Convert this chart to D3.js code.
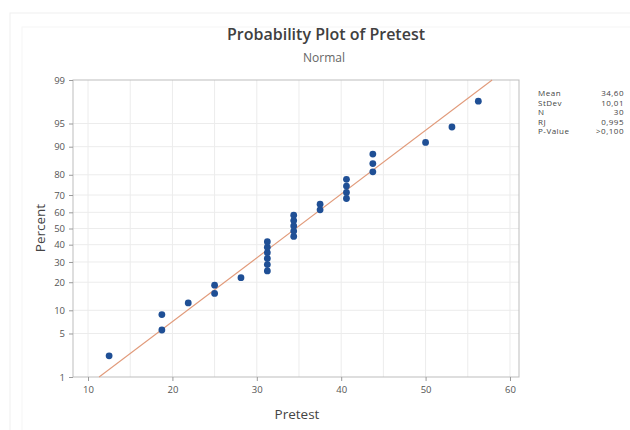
<!DOCTYPE html>
<html>
<head>
<meta charset="utf-8">
<script src="https://cdn.jsdelivr.net/npm/d3@7"></script>
<style>
  body { margin: 0; background: #fff; }
  svg { font-family: "Open Sans", "Noto Sans", sans-serif; }
</style>
</head>
<body>
<div id="vis1"></div>
<script>
const FRAME_WIDTH = 630;
const FRAME_HEIGHT = 430;
const MARGINS = {left: 73, right: 111, top: 80, bottom: 53};

// pretest scores (sorted) and their plotted percent positions
const PRETEST = [12.5, 18.75, 18.75, 21.875, 25, 25, 28.125,
                 31.25, 31.25, 31.25, 31.25, 31.25, 31.25,
                 34.375, 34.375, 34.375, 34.375, 34.375,
                 37.5, 37.5, 40.625, 40.625, 40.625, 40.625,
                 43.75, 43.75, 43.75, 50, 53.125, 56.25];
const PERCENT = [2.30, 5.59, 8.88, 12.17, 15.46, 18.75, 22.04, 25.33, 28.62, 31.91,
                 35.20, 38.49, 41.78, 45.07, 48.36, 51.64, 54.93, 58.22, 61.51, 64.80,
                 68.09, 71.38, 74.67, 77.96, 81.25, 84.54, 87.83, 91.12, 94.41, 97.70];

const X_TICKS = [10, 20, 30, 40, 50, 60];
const X_GRID = [10, 15, 20, 25, 30, 35, 40, 45, 50, 55, 60];
const Y_TICKS = [1, 5, 10, 20, 30, 40, 50, 60, 70, 80, 90, 95, 99];

const STAT_LABELS = ["Mean", "StDev", "N", "RJ", "P-Value"];
const STAT_VALUES = ["34,60", "10,01", "30", "0,995", ">0,100"];
const MEAN = 34.60;
const STDEV = 10.01;

// inverse normal cdf (Acklam)
function probit(p) {
  const a = [-39.69683028665376, 220.9460984245205, -275.9285104469687, 138.3577518672690, -30.66479806614716, 2.506628277459239];
  const b = [-54.47609879822406, 161.5858368580409, -155.6989798598866, 66.80131188771972, -13.28068155288572];
  const c = [-0.007784894002430293, -0.3223964580411365, -2.400758277161838, -2.549732539343734, 4.374664141464968, 2.938163982698783];
  const d = [0.007784695709041462, 0.3224671290700398, 2.445134137142996, 3.754408661907416];
  const pl = 0.02425;
  let q, r;
  if (p < pl) {
    q = Math.sqrt(-2 * Math.log(p));
    return (((((c[0]*q+c[1])*q+c[2])*q+c[3])*q+c[4])*q+c[5]) / ((((d[0]*q+d[1])*q+d[2])*q+d[3])*q+1);
  } else if (p <= 1 - pl) {
    q = p - 0.5; r = q * q;
    return (((((a[0]*r+a[1])*r+a[2])*r+a[3])*r+a[4])*r+a[5])*q / (((((b[0]*r+b[1])*r+b[2])*r+b[3])*r+b[4])*r+1);
  }
  q = Math.sqrt(-2 * Math.log(1 - p));
  return -(((((c[0]*q+c[1])*q+c[2])*q+c[3])*q+c[4])*q+c[5]) / ((((d[0]*q+d[1])*q+d[2])*q+d[3])*q+1);
}

const VIS_WIDTH = FRAME_WIDTH - MARGINS.left - MARGINS.right;
const VIS_HEIGHT = FRAME_HEIGHT - MARGINS.top - MARGINS.bottom;

const FRAME1 = d3.select("#vis1")
                  .append("svg")
                    .attr("width", FRAME_WIDTH)
                    .attr("height", FRAME_HEIGHT);

// faint outer graph frame
FRAME1.append("rect")
      .attr("x", 10).attr("y", 13)
      .attr("width", 640).attr("height", 440)
      .attr("fill", "none").attr("stroke", "#efefef");
FRAME1.append("rect")
      .attr("x", 22).attr("y", 27)
      .attr("width", 640).attr("height", 440)
      .attr("fill", "none").attr("stroke", "#f6f6f6");

const X_SCALE = d3.scaleLinear()
                  .domain([8.22, 61.07])
                  .range([MARGINS.left, MARGINS.left + VIS_WIDTH]);

const Y_SCALE = d3.scaleLinear()
                  .domain([probit(0.01), probit(0.99)])
                  .range([MARGINS.top + VIS_HEIGHT, MARGINS.top]);

const yPct = (p) => Y_SCALE(probit(p / 100));

// gridlines
FRAME1.append("g")
      .selectAll("line")
      .data(X_GRID)
      .enter()
      .append("line")
        .attr("x1", (d) => X_SCALE(d)).attr("x2", (d) => X_SCALE(d))
        .attr("y1", MARGINS.top).attr("y2", MARGINS.top + VIS_HEIGHT)
        .attr("stroke", "#ececec").attr("stroke-width", 1);

FRAME1.append("g")
      .selectAll("line")
      .data(Y_TICKS.slice(1, -1))
      .enter()
      .append("line")
        .attr("x1", MARGINS.left).attr("x2", MARGINS.left + VIS_WIDTH)
        .attr("y1", (d) => yPct(d)).attr("y2", (d) => yPct(d))
        .attr("stroke", "#ececec").attr("stroke-width", 1);

// plot frame
FRAME1.append("rect")
      .attr("x", MARGINS.left).attr("y", MARGINS.top)
      .attr("width", VIS_WIDTH).attr("height", VIS_HEIGHT)
      .attr("fill", "none").attr("stroke", "#bdbdbd");

// axes
const xAxis = FRAME1.append("g")
      .attr("transform", "translate(0," + (MARGINS.top + VIS_HEIGHT) + ")")
      .call(d3.axisBottom(X_SCALE).tickValues(X_TICKS).tickSize(4).tickPadding(5));

const yAxis = FRAME1.append("g")
      .attr("transform", "translate(" + MARGINS.left + ",0)")
      .call(d3.axisLeft(Y_SCALE)
              .tickValues(Y_TICKS.map((d) => probit(d / 100)))
              .tickFormat((d, i) => Y_TICKS[i])
              .tickSize(4).tickPadding(4));

[xAxis, yAxis].forEach((ax) => {
  ax.select(".domain").remove();
  ax.selectAll(".tick line").attr("stroke", "#9a9a9a");
  ax.selectAll(".tick text")
    .attr("fill", "#555")
    .attr("font-size", "9.5px")
    .attr("font-family", "\"Open Sans\", sans-serif");
});

// fitted line
const zLo = probit(0.01), zHi = probit(0.99);
FRAME1.append("line")
      .attr("x1", X_SCALE(MEAN + STDEV * zLo)).attr("y1", Y_SCALE(zLo))
      .attr("x2", X_SCALE(MEAN + STDEV * zHi)).attr("y2", Y_SCALE(zHi))
      .attr("stroke", "#e19a7a").attr("stroke-width", 1.1);

// points
FRAME1.selectAll("points")
      .data(PRETEST)
      .enter()
      .append("circle")
        .attr("cx", (d) => X_SCALE(d))
        .attr("cy", (d, i) => yPct(PERCENT[i]))
        .attr("r", 3.4)
        .attr("fill", "#1f4f95");

// titles
FRAME1.append("text")
      .attr("x", 326).attr("y", 40)
      .attr("text-anchor", "middle")
      .attr("font-size", "16px").attr("font-weight", "600")
      .attr("fill", "#404040")
      .text("Probability Plot of Pretest");

FRAME1.append("text")
      .attr("x", 324).attr("y", 62)
      .attr("text-anchor", "middle")
      .attr("font-size", "12px")
      .attr("fill", "#666")
      .text("Normal");

FRAME1.append("text")
      .attr("x", 297).attr("y", 419)
      .attr("text-anchor", "middle")
      .attr("font-size", "13.5px")
      .attr("fill", "#444")
      .text("Pretest");

FRAME1.append("text")
      .attr("transform", "translate(45,228) rotate(-90)")
      .attr("text-anchor", "middle")
      .attr("font-size", "13.5px")
      .attr("fill", "#444")
      .text("Percent");

// stats table
const STATS = FRAME1.append("g")
      .attr("font-size", "8px")
      .attr("letter-spacing", "0.5px")
      .attr("fill", "#444");
STATS.selectAll("labels")
     .data(STAT_LABELS)
     .enter()
     .append("text")
       .attr("x", 538)
       .attr("y", (d, i) => 96 + i * 9.6)
       .text((d) => d);
STATS.selectAll("values")
     .data(STAT_VALUES)
     .enter()
     .append("text")
       .attr("x", 624)
       .attr("y", (d, i) => 96 + i * 9.6)
       .attr("text-anchor", "end")
       .text((d) => d);
</script>
</body>
</html>
